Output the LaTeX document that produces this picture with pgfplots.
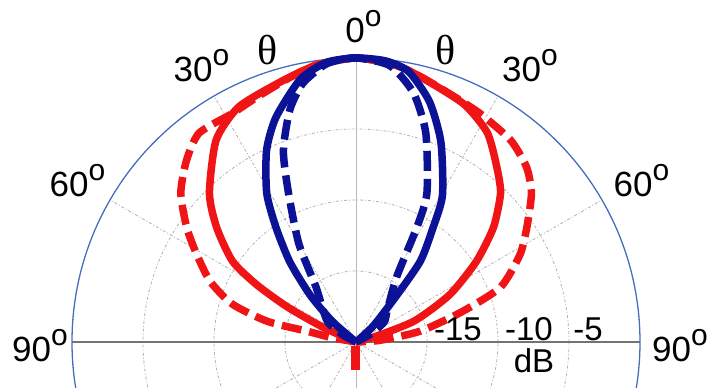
\documentclass[border=0pt]{standalone}
\usepackage{pgfplots}
\pgfplotsset{compat=1.18}
\usepackage{pgfplotstable}
\usepackage{fontspec}
\setmainfont{Liberation Sans}
\newfontfamily\thetafont{Liberation Serif}

\definecolor{lobered}{RGB}{240,20,22}
\definecolor{lobeblue}{RGB}{12,18,150}
\definecolor{rimblue}{RGB}{70,110,190}

\tikzset{gridline/.style={gray!60, line width=0.8pt, dash pattern=on 3pt off 2pt on 1pt off 2pt}}

% angle (deg, clockwise from boresight) and level (dB)
\pgfplotstableread{
theta dB
-55 -20
-49 -17.8
-44.4 -15.4
-39.6 -12.7
-35 -10.2
-31 -7.8
-25 -5.1
-19.6 -3.2
-12 -1.1
-6 -0.2
0 0
6 -0.1
11 -0.6
17 -2.3
23 -4.7
30.5 -8.0
34 -10.3
38.5 -12.7
41 -15.5
47 -18.3
52 -20
}\bluesolid

\pgfplotstableread{
theta dB
-70 -20
-62 -19
-54 -17.5
-36 -15.2
-30.2 -12.0
-24.4 -8.5
-20.8 -5.6
-15.9 -3.0
-11.6 -1.4
-6 -0.3
0 0
7 -0.4
13 -2.0
18.5 -4.5
25.5 -8.4
28 -10.9
32 -14.6
45 -16.9
55 -17.6
62 -19
70 -20
}\bluedashed

\pgfplotstableread{
theta dB
-70 -20
-66 -17.5
-63 -14.6
-60 -11.9
-56.8 -9.6
-50.6 -7.3
-44.6 -5.3
-34.7 -2.7
-26.5 -1.5
-15.8 -0.9
-8 -0.3
0 0
8 -0.3
13.8 -0.8
24.3 -1.6
32.1 -2.6
38.9 -4.2
44.2 -5.4
50.2 -7.4
56.2 -9.8
63.2 -12.6
70.1 -15.6
74 -18.5
78 -20
}\redsolid

\pgfplotstableread{
theta dB
-85 -20
-80 -18.3
-77.6 -16.5
-76.9 -13.6
-73 -10.9
-67.5 -8.9
-61.2 -7.2
-55.9 -5.6
-49.6 -3.8
-43 -2.5
-36.9 -1.6
-28.4 -1.7
-22 -1.4
-14 -0.8
-8 -0.3
0 0
8 -0.3
14 -0.8
22 -1.4
28.6 -1.7
37.5 -2.1
44.3 -2.8
49.7 -3.8
56.1 -5.5
61.9 -6.9
69.2 -9.1
74 -12.2
80.4 -15.4
86 -18.3
90 -20
}\reddashed

\pgfplotstableread{
theta dB
180 -19.7
180 -18
}\redback

\newcommand\ang[1]{#1\raisebox{0.47em}{\fontsize{30}{30}\selectfont o}}

\begin{document}
\begin{tikzpicture}
\useasboundingbox (0,0) rectangle (710pt,388pt);
\begin{axis}[
  at={(0,0)}, anchor=south west,
  scale only axis, width=710pt, height=388pt,
  xmin=-25.07, xmax=24.93, ymin=-3.24, ymax=24.08,
  hide axis, clip=true,
  lobe/.style={data cs=polar, line width=7.5pt, line join=round, smooth, tension=0.4},
]
% dB rings and spokes
\pgfplotsinvokeforeach{71,142,213}{
  \draw[gridline] (axis cs:0,0) circle[radius=#1pt];
}
\pgfplotsinvokeforeach{30,60,120,150}{
  \draw[gridline] (axis cs:{-20*cos(#1)},{-20*sin(#1)}) -- (axis cs:{20*cos(#1)},{20*sin(#1)});
}
\draw[gray!55, line width=0.9pt] (axis cs:0,-20) -- (axis cs:0,20);
\draw[gray!90!black, line width=1.1pt] (axis cs:-20,0) -- (axis cs:20,0);
\draw[rimblue, line width=1.3pt] (axis cs:0,0) circle[radius=284pt];

\addplot[lobe, lobered] table[x expr={90-\thisrow{theta}}, y expr={\thisrow{dB}+20}] {\redsolid};
\addplot[lobe, lobered, dash pattern=on 20pt off 8pt] table[x expr={90-\thisrow{theta}}, y expr={\thisrow{dB}+20}] {\reddashed};
\addplot[data cs=polar, lobered, line width=9pt] table[x expr={90-\thisrow{theta}}, y expr={\thisrow{dB}+20}] {\redback};
\addplot[lobe, lobeblue] table[x expr={90-\thisrow{theta}}, y expr={\thisrow{dB}+20}] {\bluesolid};
\addplot[lobe, lobeblue, dash pattern=on 20pt off 8pt] table[x expr={90-\thisrow{theta}}, y expr={\thisrow{dB}+20}] {\bluedashed};
\end{axis}

% labels, placed in picture points measured from the top left
\begin{scope}[x=1pt, y=-1pt, shift={(0pt,388pt)}]
\begin{scope}[font=\fontsize{35}{35}\selectfont]
\node[anchor=base, inner sep=0] at (363.5,43) {\ang{0}};
\node[anchor=base, inner sep=0] at (201.5,82) {\ang{30}};
\node[anchor=base, inner sep=0] at (530,82) {\ang{30}};
\node[anchor=base, inner sep=0] at (77.5,197) {\ang{60}};
\node[anchor=base, inner sep=0] at (641.5,197) {\ang{60}};
\node[anchor=base, inner sep=0] at (40,362) {\ang{90}};
\node[anchor=base, inner sep=0] at (680,362) {\ang{90}};
\end{scope}
\node[anchor=base, inner sep=0, font=\thetafont\fontsize{42}{42}\selectfont] at (267.5,65) {θ};
\node[anchor=base, inner sep=0, font=\thetafont\fontsize{42}{42}\selectfont] at (446,65) {θ};
\begin{scope}[font=\fontsize{33}{33}\selectfont]
\node[anchor=base, inner sep=0] at (458,341) {-15};
\node[anchor=base, inner sep=0] at (529,341) {-10};
\node[anchor=base, inner sep=0] at (588,341) {-5};
\node[anchor=base, inner sep=0] at (534,373) {dB};
\end{scope}
\end{scope}
\end{tikzpicture}
\end{document}
